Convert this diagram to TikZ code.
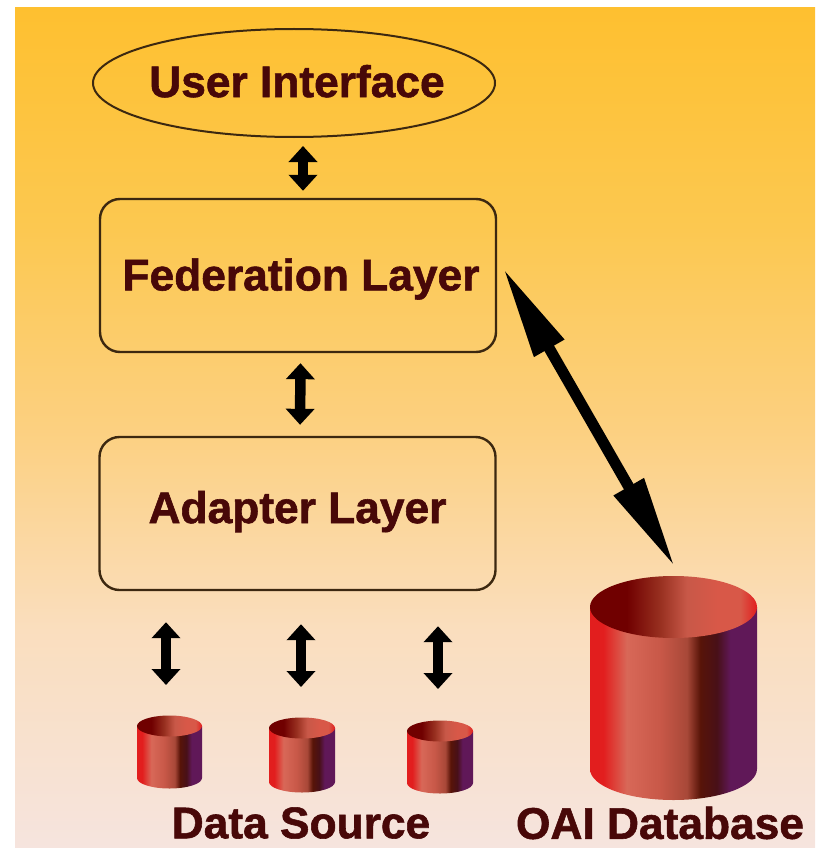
\documentclass[tikz,border=0pt]{standalone}
\usepackage{fontspec}
\setmainfont{Liberation Sans}[BoldFeatures={FakeBold=1.3}]
\usetikzlibrary{shapes.geometric,arrows.meta}

\definecolor{inkred}{RGB}{72,8,8}
\definecolor{boxline}{RGB}{60,40,16}
\definecolor{bga}{RGB}{254,192,48}
\definecolor{bgb}{RGB}{252,200,80}
\definecolor{bgc}{RGB}{252,208,128}
\definecolor{bgd}{RGB}{250,222,190}
\definecolor{bge}{RGB}{246,228,222}
\pgfdeclareverticalshading{bgfade}{100bp}{color(0bp)=(bge); color(25bp)=(bge); color(38bp)=(bgd); color(50bp)=(bgc); color(62bp)=(bgb); color(75bp)=(bga); color(100bp)=(bga)}
\definecolor{sa}{RGB}{226,30,30}
\definecolor{sb}{RGB}{216,104,88}
\definecolor{sc}{RGB}{200,88,72}
\definecolor{sd}{RGB}{168,72,56}
\definecolor{se}{RGB}{88,20,8}
\definecolor{sf}{RGB}{72,16,24}
\definecolor{sg}{RGB}{96,24,88}
\definecolor{ta}{RGB}{112,0,0}
\definecolor{tb}{RGB}{152,48,32}
\definecolor{tc}{RGB}{200,88,72}
\definecolor{td}{RGB}{216,88,72}
\pgfdeclarehorizontalshading{drumside}{100bp}{color(0bp)=(sa); color(25bp)=(sa); color(29bp)=(sa); color(36bp)=(sb); color(46bp)=(sc); color(54bp)=(sd); color(58bp)=(se); color(63bp)=(sf); color(67bp)=(sg); color(75bp)=(sg); color(100bp)=(sg)}
\pgfdeclarehorizontalshading{drumtop}{100bp}{color(0bp)=(ta); color(25bp)=(ta); color(36bp)=(ta); color(46bp)=(tb); color(54bp)=(tc); color(63bp)=(td); color(70bp)=(td); color(75bp)=(sa); color(100bp)=(sa)}

% #1 centre x, #2 y of top rim, #3 y of lower rim, #4 half width, #5 half height of the rim
\newcommand{\drum}[5]{%
  \shade[shading=drumside] (#1-#4,#2) -- (#1-#4,#3) arc (180:0:#4 and #5) -- (#1+#4,#2) -- cycle;
  \shade[shading=drumtop] (#1,#2) ellipse (#4 and #5);
}

\tikzset{
  boxlayer/.style={draw=boxline,line width=2.4pt,rounded corners=20pt,minimum width=396pt,minimum height=153pt,inner sep=0pt},
  lbl/.style={text=inkred,font=\fontsize{44.3}{50}\selectfont\bfseries},
  dblarrow/.style={line width=10.5pt,{Triangle[length=16pt,width=28pt]}-{Triangle[length=16pt,width=28pt]}}
}

\begin{document}
\begin{tikzpicture}[x=1pt,y=-1pt]
\useasboundingbox (0,0) rectangle (818,848);
\shade[shading=bgfade] (15,8) rectangle (815,848);

% layers
\node[draw=boxline,line width=2pt,ellipse,minimum width=402pt,minimum height=108pt,inner sep=0pt,lbl,text depth=4pt] (ui) at (294,83) {\makebox[0pt]{\hspace{6pt}User Interface}};
\node[boxlayer,lbl,text height=39pt] (fed) at (298,275.5) {\hspace{6pt}Federation Layer};
\node[boxlayer,lbl,text depth=13pt] (adapter) at (297.5,513.5) {Adapter Layer\hspace{6pt}};

% drums
\drum{169.5}{726}{778}{32.5}{10.5}
\drum{302}{728}{782}{33}{10.5}
\drum{440}{731}{783}{33}{10.5}
\drum{673.5}{607}{769}{83.5}{31}
\node[coordinate] (ds1) at (166,716) {};
\node[coordinate] (ds2) at (301,718) {};
\node[coordinate] (ds3) at (438,721) {};
\node[coordinate] (oaitop) at (680,576) {};

% arrows
\draw[dblarrow,shorten <=8pt,shorten >=7pt] ([xshift=9pt]ui.south) -- ([xshift=5pt]fed.north);
\draw[dblarrow,shorten <=10pt,shorten >=11pt] ([xshift=2.5pt]fed.south) -- ([xshift=2.5pt]adapter.north);
\draw[dblarrow,shorten <=31pt,shorten >=31pt] (adapter.south -| ds1) -- (ds1);
\draw[dblarrow,shorten <=33pt,shorten >=31pt] (adapter.south -| ds2) -- (ds2);
\draw[dblarrow,shorten <=35pt,shorten >=32pt] (adapter.south -| ds3) -- (ds3);
\draw[line width=11pt,{Triangle[length=93pt,width=32pt]}-{Triangle[length=93pt,width=32pt]},shorten <=11.5pt,shorten >=10pt] ([yshift=17.8pt]fed.east) -- (oaitop);

% labels
\node[lbl] (dslabel) at (301,823) {Data Source};
\node[lbl] (oailabel) at (660,823) {OAI Database};
\end{tikzpicture}
\end{document}
